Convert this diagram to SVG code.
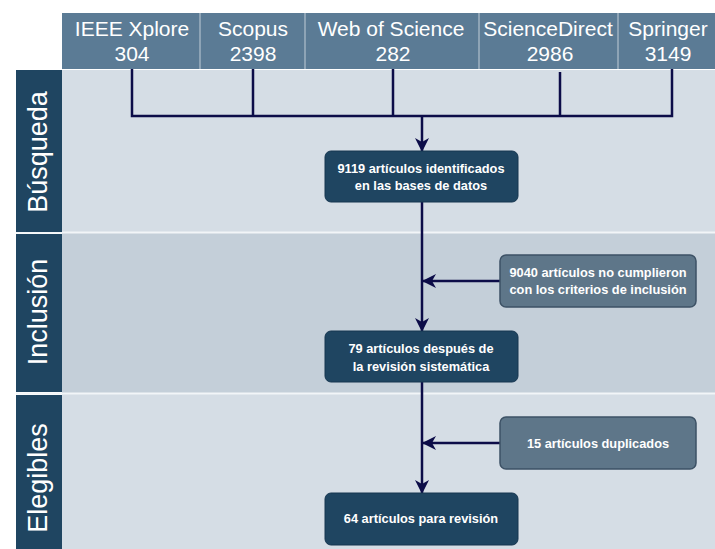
<svg xmlns="http://www.w3.org/2000/svg" width="715" height="549" viewBox="0 0 715 549">
<defs>
<style>
.hdr{fill:#5b7b95}
.hdrsep{stroke:#9fb2c2;stroke-width:1.5}
.ht{font-family:"Liberation Sans",Arial,sans-serif;font-size:21px;fill:#ffffff;text-anchor:middle}
.lab{fill:#1f4561}
.lt{font-family:"Liberation Sans",Arial,sans-serif;font-size:27px;fill:#ffffff;text-anchor:middle}
.node{fill:#1f4561;stroke:#163650;stroke-width:1}
.side{fill:#5e7689;stroke:#3d5266;stroke-width:1.5}
.nt{font-family:"Liberation Sans",Arial,sans-serif;font-size:12.8px;font-weight:bold;fill:#ffffff;text-anchor:middle}
.ln{stroke:#0c0c48;stroke-width:2.5;fill:none}
</style>
<marker id="ah" viewBox="0 0 14 14" markerWidth="14" markerHeight="14" refX="13" refY="7" orient="auto" markerUnits="userSpaceOnUse">
<path d="M0,0 L14,7 L0,14 L4,7 Z" fill="#0c0c48"/>
</marker>
</defs>
<rect width="715" height="549" fill="#ffffff"/>
<g id="sections">
<rect x="62" y="70" width="653" height="162" fill="#d5dde5"/>
<rect x="62" y="233" width="653" height="160" fill="#c4cfd9"/>
<rect x="62" y="394" width="653" height="155" fill="#d5dde5"/>
<line x1="16" y1="232.5" x2="715" y2="232.5" stroke="#f2f5f8" stroke-width="2"/>
<line x1="16" y1="393.5" x2="715" y2="393.5" stroke="#f2f5f8" stroke-width="2"/>
</g>
<g id="lane-busqueda">
<rect class="lab" x="16" y="70" width="46" height="162"/>
<text class="lt" transform="translate(47,152) rotate(-90)">Búsqueda</text>
</g>
<g id="lane-inclusion">
<rect class="lab" x="16" y="234" width="46" height="158"/>
<text class="lt" transform="translate(47,312) rotate(-90)">Inclusión</text>
</g>
<g id="lane-elegibles">
<rect class="lab" x="16" y="395" width="46" height="154"/>
<text class="lt" transform="translate(47,478) rotate(-90)">Elegibles</text>
</g>
<g id="header">
<rect class="hdr" x="62" y="13" width="653" height="56"/>
<line class="hdrsep" x1="200" y1="13" x2="200" y2="69"/>
<line class="hdrsep" x1="305" y1="13" x2="305" y2="69"/>
<line class="hdrsep" x1="479" y1="13" x2="479" y2="69"/>
<line class="hdrsep" x1="618" y1="13" x2="618" y2="69"/>
</g>
<g id="src-ieee"><text class="ht" x="132" y="36">IEEE Xplore</text><text class="ht" x="132" y="61">304</text></g>
<g id="src-scopus"><text class="ht" x="253" y="36">Scopus</text><text class="ht" x="253" y="61">2398</text></g>
<g id="src-wos"><text class="ht" x="391" y="36">Web of Science</text><text class="ht" x="393" y="61">282</text></g>
<g id="src-sd"><text class="ht" x="548" y="36">ScienceDirect</text><text class="ht" x="550" y="61">2986</text></g>
<g id="src-springer"><text class="ht" x="668" y="36">Springer</text><text class="ht" x="668" y="61">3149</text></g>
<g id="connectors">
<path class="ln" d="M132,69 V116 H672 V69 M253,69 V116 M393,69 V116 M560,72 V116"/>
<line class="ln" x1="422" y1="116" x2="422" y2="151" marker-end="url(#ah)"/>
<line class="ln" x1="422" y1="202" x2="422" y2="331" marker-end="url(#ah)"/>
<line class="ln" x1="500" y1="281" x2="423" y2="281" marker-end="url(#ah)"/>
<line class="ln" x1="422" y1="382" x2="422" y2="493" marker-end="url(#ah)"/>
<line class="ln" x1="500" y1="443" x2="423" y2="443" marker-end="url(#ah)"/>
</g>
<g id="n-identificados">
<rect class="node" x="325" y="151" width="193" height="51" rx="6"/>
<text class="nt" x="421" y="173">9119 artículos identificados</text>
<text class="nt" x="421" y="190">en las bases de datos</text>
</g>
<g id="n-nocumplieron">
<rect class="side" x="500" y="255" width="196" height="52" rx="6"/>
<text class="nt" x="598" y="277">9040 artículos no cumplieron</text>
<text class="nt" x="598" y="294">con los criterios de inclusión</text>
</g>
<g id="n-revision">
<rect class="node" x="325" y="331" width="193" height="51" rx="6"/>
<text class="nt" x="421" y="353">79 artículos después de</text>
<text class="nt" x="421" y="371">la revisión sistemática</text>
</g>
<g id="n-duplicados">
<rect class="side" x="500" y="417" width="196" height="52" rx="6"/>
<text class="nt" x="598" y="448">15 artículos duplicados</text>
</g>
<g id="n-final">
<rect class="node" x="325" y="493" width="193" height="52" rx="6"/>
<text class="nt" x="421" y="523">64 artículos para revisión</text>
</g>
</svg>
